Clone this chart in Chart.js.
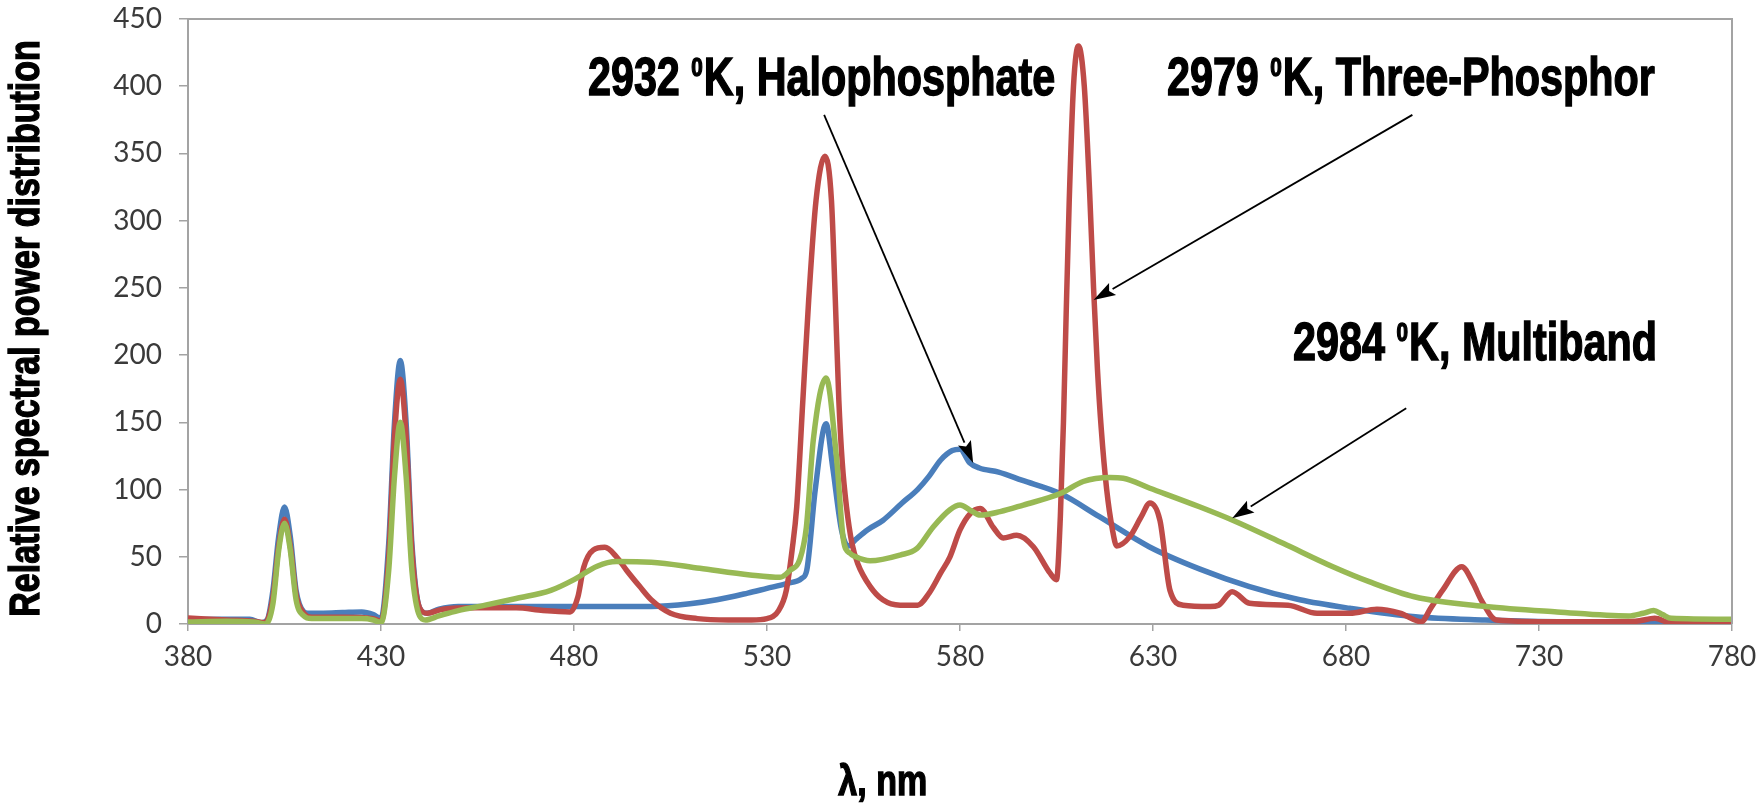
<!DOCTYPE html>
<html>
<head>
<meta charset="utf-8">
<title>Relative spectral power distribution</title>
<script src="https://cdn.jsdelivr.net/npm/chart.js@4.4.1/dist/chart.umd.min.js"></script>
<style>
  html, body { margin: 0; padding: 0; background: #fff; }
  #wrap { width: 1760px; height: 803px; position: relative; }
</style>
</head>
<body>
<div id="wrap"><canvas id="spdChart"></canvas></div>
<script>
// wavelength ticks (nm) and value ticks
const xTickValues = [380, 430, 480, 530, 580, 630, 680, 730, 780];
const yTickValues = [0, 50, 100, 150, 200, 250, 300, 350, 400, 450];

// [wavelength nm, relative power]
const halophosphate = [
  [380, 3], [388, 3.5], [396, 3.5], [399, 1], [400.5, 3], [402, 25], [403.5, 65], [405, 87],
  [406.5, 65], [408, 25], [410, 9], [411, 8], [415, 8], [420, 8.5], [425, 9], [428, 7],
  [430, 4], [432, 60], [433.5, 150], [435, 196], [436.5, 150], [438, 60], [440, 12], [442, 8],
  [445, 11], [450, 13], [460, 13], [470, 13], [480, 13], [490, 13], [500, 13], [510, 15],
  [517, 18], [525, 23], [530, 26.5], [535, 30], [539, 34], [540.3, 40], [542.5, 100], [545.3, 149],
  [547, 117], [549.3, 70], [551, 58], [553, 63], [556, 70], [560, 77], [565, 90], [569, 100],
  [572, 110], [575, 122], [578, 129], [580, 130], [582.5, 120], [585, 116], [590, 113], [596, 107],
  [606, 97], [616, 80], [629, 57.5], [642, 41], [655, 27.8], [668, 18], [681, 11.7], [698, 5.4],
  [716, 3], [735, 1.6], [760, 1], [780, 1]
];

const threePhosphor = [
  [380, 4.5], [390, 3], [397, 2], [400, 1], [402, 20], [403.5, 58], [405, 78], [406.5, 58],
  [408, 22], [410, 8], [412, 5], [420, 5], [428, 4], [430, 2], [432, 50], [433.5, 140],
  [435, 182], [436.5, 140], [438, 55], [440, 12], [442, 8], [446, 11], [455, 12], [465, 12],
  [472, 10], [479, 9], [481, 20], [482.5, 42], [485, 55], [488, 57], [491, 50], [493.6, 40],
  [497, 28], [500, 18], [505, 8], [512, 4], [520, 3], [526, 3], [530, 4], [533, 10],
  [535, 25], [536.5, 55], [537.7, 87], [539.3, 167], [540.8, 241], [542.7, 315], [545, 348], [546.7, 315],
  [547.7, 241], [548.6, 167], [549.5, 120], [550.6, 87], [552, 60], [553.5, 45], [556.7, 28], [560, 18],
  [564.5, 14], [569, 14], [572, 23], [575, 38], [577.4, 50], [580, 70], [582.6, 82], [585.2, 86],
  [588.6, 72], [591.2, 64], [594.7, 66], [599, 57.5], [603.3, 38], [605, 33], [606, 80], [606.8, 150],
  [607.5, 230], [608.3, 315], [609.4, 400], [610.7, 430], [612.2, 400], [613.6, 320], [614.6, 250], [615.6, 190],
  [616.6, 145], [618, 100], [619.5, 70], [620.6, 58], [624, 65], [627, 80], [629.2, 90], [631.8, 77],
  [634.4, 25], [637.8, 14], [644.8, 13], [647, 14], [650.5, 24], [655, 15.4], [665, 14], [672.5, 8],
  [681, 8], [688, 11], [694, 8], [699.5, 1.7], [702, 12], [705, 25], [710, 42.6], [713, 30],
  [715, 18], [719, 3], [735, 1.6], [755, 2], [760, 4.3], [764, 1], [780, 1]
];

const multiband = [
  [380, 1.5], [390, 2], [397, 1.5], [400, 0], [402, 15], [403.5, 55], [405, 75], [406.5, 55],
  [408, 18], [410, 6], [412, 4], [425, 4], [428, 3], [430, 1], [432, 40], [433.5, 110],
  [435, 150], [436.5, 110], [438, 40], [440, 6], [441.5, 3], [445, 6], [450, 10], [457, 14],
  [465, 19], [474, 25], [480, 33], [486, 43], [491, 46.4], [500, 46], [512.6, 41.4], [525.6, 36.5],
  [533.4, 34.7], [536, 40], [538.5, 48], [540.2, 72], [542, 137], [545.3, 183], [548, 124], [549.8, 62.5],
  [551.5, 52.6], [553, 50], [556.7, 47], [564.5, 51.3], [568.8, 56], [573, 72], [577.4, 85], [580, 88.5],
  [583, 84], [585.2, 81], [590.4, 83.6], [596.4, 88.5], [606, 97], [611.9, 106], [618.8, 109], [622.3, 108.4],
  [629.2, 101], [642.2, 87], [650.8, 77], [663.7, 60], [676.6, 42.6], [686, 31.5], [697.7, 20.3], [716.2, 13],
  [734.7, 9], [753.2, 6], [757, 8], [759.7, 10], [762, 7], [764.3, 4.2], [780, 3.5]
];

// callouts: colour temperature, lamp type, text anchor and arrow ends, in data units
const calloutTemps = ['2932', '2979', '2984'];
const calloutNames = ['Halophosphate', 'Three-Phosphor', 'Multiband'];
const calloutAt = [[483.6, 393.6], [633.6, 393.6], [666.3, 196.4]];
const arrowFrom = [[544.8, 378.7], [697.2, 378.7], [695.6, 160.5]];
const arrowTo = [[583.4, 119.8], [614.6, 241], [650.5, 78.6]];

const axisColor = '#a3a3a3';
const tickFont = { family: 'Lato, "Open Sans", sans-serif', size: 28 };
const heavy = '"Liberation Sans", Arial, sans-serif';

function toPoints(rows) {
  return rows.map(r => ({ x: r[0], y: r[1] }));
}

// bold text squeezed sideways, to stand in for the condensed face of the original
function squeezedText(ctx, text, size, squeeze) {
  ctx.font = `bold ${size}px ${heavy}`;
  ctx.save();
  ctx.scale(squeeze, 1);
  ctx.fillText(text, 0, 0);
  ctx.lineWidth = 1.4;
  ctx.strokeText(text, 0, 0);
  ctx.restore();
  return ctx.measureText(text).width * squeeze;
}

function drawCallout(ctx, px, py, temp, name) {
  const size = 53, squeeze = 0.78;
  ctx.save();
  ctx.translate(px, py);
  ctx.fillStyle = '#000';
  ctx.strokeStyle = '#000';
  ctx.textBaseline = 'alphabetic';
  ctx.textAlign = 'left';
  let cx = squeezedText(ctx, temp + ' ', size, squeeze);
  ctx.translate(cx, -size * 0.36);
  cx = squeezedText(ctx, '0', size * 0.5, squeeze) + 1;
  ctx.translate(cx, size * 0.36);
  squeezedText(ctx, 'K, ' + name, size, squeeze);
  ctx.restore();
}

const calloutPlugin = {
  id: 'callouts',
  afterDatasetsDraw(chart) {
    const { ctx, chartArea, scales } = chart;
    const x = scales.x, y = scales.y;
    ctx.save();

    // top and right frame of the plot area
    ctx.strokeStyle = axisColor;
    ctx.lineWidth = 2;
    ctx.beginPath();
    ctx.moveTo(chartArea.left, chartArea.top);
    ctx.lineTo(chartArea.right, chartArea.top);
    ctx.lineTo(chartArea.right, chartArea.bottom);
    ctx.stroke();

    // arrows
    arrowFrom.forEach((from, i) => {
      const x0 = x.getPixelForValue(from[0]), y0 = y.getPixelForValue(from[1]);
      const x1 = x.getPixelForValue(arrowTo[i][0]), y1 = y.getPixelForValue(arrowTo[i][1]);
      const ang = Math.atan2(y1 - y0, x1 - x0);
      const head = 22, half = 7;
      const bx = x1 - head * Math.cos(ang), by = y1 - head * Math.sin(ang);
      ctx.strokeStyle = '#000';
      ctx.lineWidth = 1.8;
      ctx.beginPath();
      ctx.moveTo(x0, y0);
      ctx.lineTo(bx, by);
      ctx.stroke();
      ctx.fillStyle = '#000';
      ctx.beginPath();
      ctx.moveTo(x1, y1);
      ctx.lineTo(bx + half * Math.sin(ang), by - half * Math.cos(ang));
      ctx.lineTo(bx + 4 * Math.cos(ang), by + 4 * Math.sin(ang));
      ctx.lineTo(bx - half * Math.sin(ang), by + half * Math.cos(ang));
      ctx.closePath();
      ctx.fill();
    });

    // callout texts
    calloutAt.forEach((at, i) => {
      drawCallout(ctx, x.getPixelForValue(at[0]), y.getPixelForValue(at[1]), calloutTemps[i], calloutNames[i]);
    });

    ctx.fillStyle = '#000';
    ctx.strokeStyle = '#000';
    ctx.textAlign = 'center';

    // x axis title (sits left of centre in the original)
    ctx.save();
    ctx.textBaseline = 'alphabetic';
    ctx.translate(chartArea.left + 0.45 * (chartArea.right - chartArea.left), chart.height - 8);
    squeezedText(ctx, 'λ, nm', 42, 0.81);
    ctx.restore();

    // y axis title, reading upwards
    ctx.save();
    ctx.textBaseline = 'middle';
    ctx.translate(27, (chartArea.top + chartArea.bottom) / 2 + 7);
    ctx.rotate(-Math.PI / 2);
    squeezedText(ctx, 'Relative spectral power distribution', 42, 0.81);
    ctx.restore();

    ctx.restore();
  }
};

function makeLine(label, rows, color, order) {
  return {
    label,
    data: toPoints(rows),
    borderColor: color,
    backgroundColor: color,
    borderWidth: 5.5,
    pointRadius: 0,
    cubicInterpolationMode: 'monotone',
    fill: false,
    order
  };
}

new Chart(document.getElementById('spdChart'), {
  type: 'line',
  data: {
    datasets: [
      makeLine('2932 K, Halophosphate', halophosphate, '#4a7ebb', 3),
      makeLine('2979 K, Three-Phosphor', threePhosphor, '#be4b48', 2),
      makeLine('2984 K, Multiband', multiband, '#98b954', 1)
    ]
  },
  options: {
    responsive: true,
    maintainAspectRatio: false,
    animation: false,
    layout: { padding: { top: 19, right: 28, left: 0, bottom: 0 } },
    plugins: {
      legend: { display: false },
      tooltip: { enabled: false }
    },
    scales: {
      x: {
        type: 'linear',
        min: 380,
        max: 780,
        afterBuildTicks: s => { s.ticks = xTickValues.map(v => ({ value: v })); },
        afterFit: s => { s.height = 179; s.paddingLeft = 0; s.paddingRight = 0; },
        border: { display: true, color: axisColor, width: 2 },
        grid: { display: true, drawOnChartArea: false, drawTicks: true, tickLength: 7, color: axisColor, lineWidth: 1.5 },
        ticks: { color: '#3a3a3a', font: tickFont, padding: 9, maxRotation: 0 }
      },
      y: {
        min: 0,
        max: 450,
        afterBuildTicks: s => { s.ticks = yTickValues.map(v => ({ value: v })); },
        afterFit: s => { s.width = 188; s.paddingTop = 0; s.paddingBottom = 0; },
        border: { display: true, color: axisColor, width: 2 },
        grid: { display: true, drawOnChartArea: false, drawTicks: true, tickLength: 9, color: axisColor, lineWidth: 1.5 },
        ticks: { color: '#3a3a3a', font: tickFont, padding: 17 }
      }
    }
  },
  plugins: [calloutPlugin]
});
</script>
</body>
</html>
